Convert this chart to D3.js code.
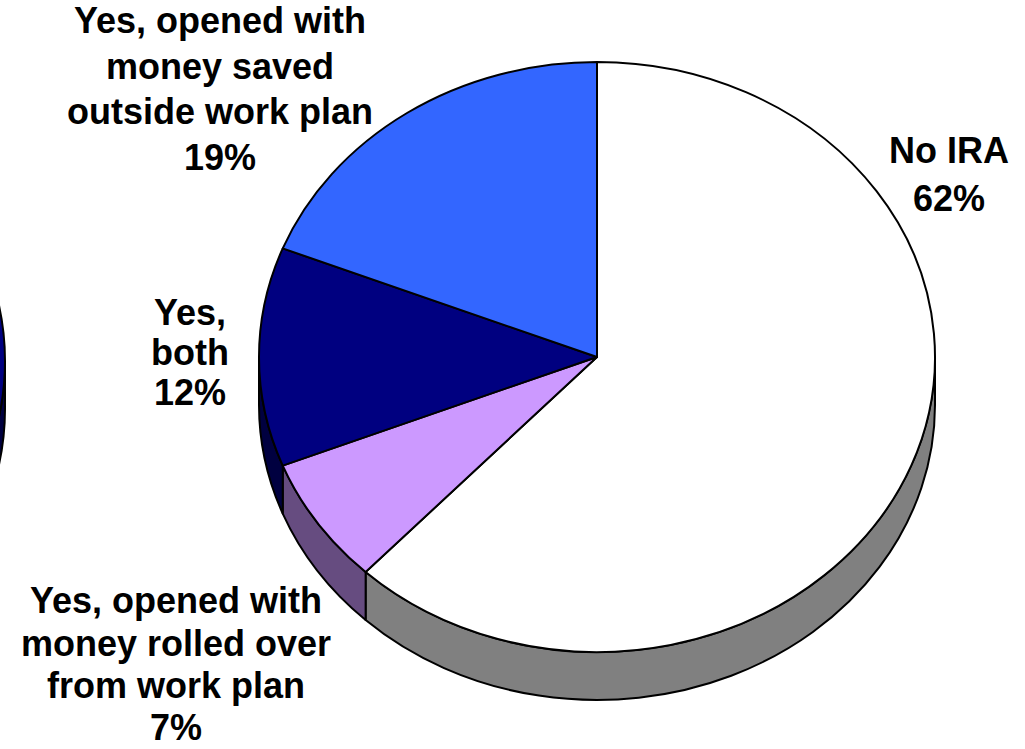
<!DOCTYPE html>
<html>
<head>
<meta charset="utf-8">
<script src="https://cdn.jsdelivr.net/npm/d3@7/dist/d3.min.js"></script>
<style>
  html, body { margin: 0; padding: 0; background: #ffffff; }
  svg { display: block; }
  .lbl { font-family: "Liberation Sans", Arial, Helvetica, sans-serif; font-weight: bold; font-size: 36px; fill: #000; }
</style>
</head>
<body>
<svg id="chart" width="1025" height="749"></svg>
<script>
// IRA ownership shares (percent of respondents)
const categories = [
  "No IRA",
  "Yes, opened with money rolled over from work plan",
  "Yes, both",
  "Yes, opened with money saved outside work plan"
];
const values = [62, 7, 12, 19];

// Label text, one line per entry (the percentage is appended from values)
const labelLines = [
  ["No IRA"],
  ["Yes, opened with", "money rolled over", "from work plan"],
  ["Yes,", "both"],
  ["Yes, opened with", "money saved", "outside work plan"]
];

// Face and wall colours per slice
const topColors  = ["#FFFFFF", "#CC99FF", "#000080", "#3366FF"];
const sideColors = ["#808080", "#664C80", "#000040", "#1A3380"];

// Label anchor (centre x) and baselines of each text block
const labelX = [949, 176, 190, 220];
const labelBaselines = [
  [163, 211],
  [613, 656, 698, 740],
  [325, 365, 405],
  [33, 79, 124, 170]
];

const W = 1025, H = 749;
const cx = 597, cy = 357, rx = 338, ry = 295, depth = 48;

const svg = d3.select("#chart");

// Point on the tilted rim; angle measured clockwise from 12 o'clock
const pt = (a, dy = 0) => [cx + rx * Math.sin(a), cy - ry * Math.cos(a) + dy];

const pie = d3.pie().sort(null).value(d => d).startAngle(0).endAngle(2 * Math.PI);
const arcs = pie(values);

// Edge of the neighbouring pie panel, cut off by the left border
const nx = -333, ny = 361;
const g0 = svg.append("g");
g0.append("path")
  .attr("d", `M${nx + rx},${ny} A${rx},${ry} 0 0 1 ${nx - rx},${ny} L${nx - rx},${ny + depth} A${rx},${ry} 0 0 0 ${nx + rx},${ny + depth} Z`)
  .attr("fill", "#000040").attr("stroke", "#000").attr("stroke-width", 2);
g0.append("ellipse")
  .attr("cx", nx).attr("cy", ny).attr("rx", rx).attr("ry", ry)
  .attr("fill", "#000080").attr("stroke", "#000").attr("stroke-width", 2);

const g = svg.append("g")
  .attr("stroke", "#000")
  .attr("stroke-width", 2)
  .attr("stroke-linejoin", "round");

// Outer walls: only the part of each slice facing the viewer (front half)
const frontStart = Math.PI / 2, frontEnd = 3 * Math.PI / 2;
arcs.forEach((d, i) => {
  const a = Math.max(d.startAngle, frontStart);
  const b = Math.min(d.endAngle, frontEnd);
  if (b <= a) return;
  const [x0, y0] = pt(a), [x1, y1] = pt(b);
  const [x2, y2] = pt(b, depth), [x3, y3] = pt(a, depth);
  g.append("path")
    .attr("d", `M${x0},${y0} A${rx},${ry} 0 0 1 ${x1},${y1} L${x2},${y2} A${rx},${ry} 0 0 0 ${x3},${y3} Z`)
    .attr("fill", sideColors[i]);
});

// Top faces
arcs.forEach((d, i) => {
  const [x0, y0] = pt(d.startAngle), [x1, y1] = pt(d.endAngle);
  const large = (d.endAngle - d.startAngle) > Math.PI ? 1 : 0;
  g.append("path")
    .attr("d", `M${cx},${cy} L${x0},${y0} A${rx},${ry} 0 ${large} 1 ${x1},${y1} Z`)
    .attr("fill", topColors[i]);
});

// Labels
const lg = svg.append("g");
categories.forEach((c, i) => {
  const lines = labelLines[i].concat([values[i] + "%"]);
  const t = lg.append("text")
    .attr("class", "lbl")
    .attr("text-anchor", "middle");
  lines.forEach((s, j) => {
    t.append("tspan")
      .attr("x", labelX[i])
      .attr("y", labelBaselines[i][j])
      .text(s);
  });
});
</script>
</body>
</html>
